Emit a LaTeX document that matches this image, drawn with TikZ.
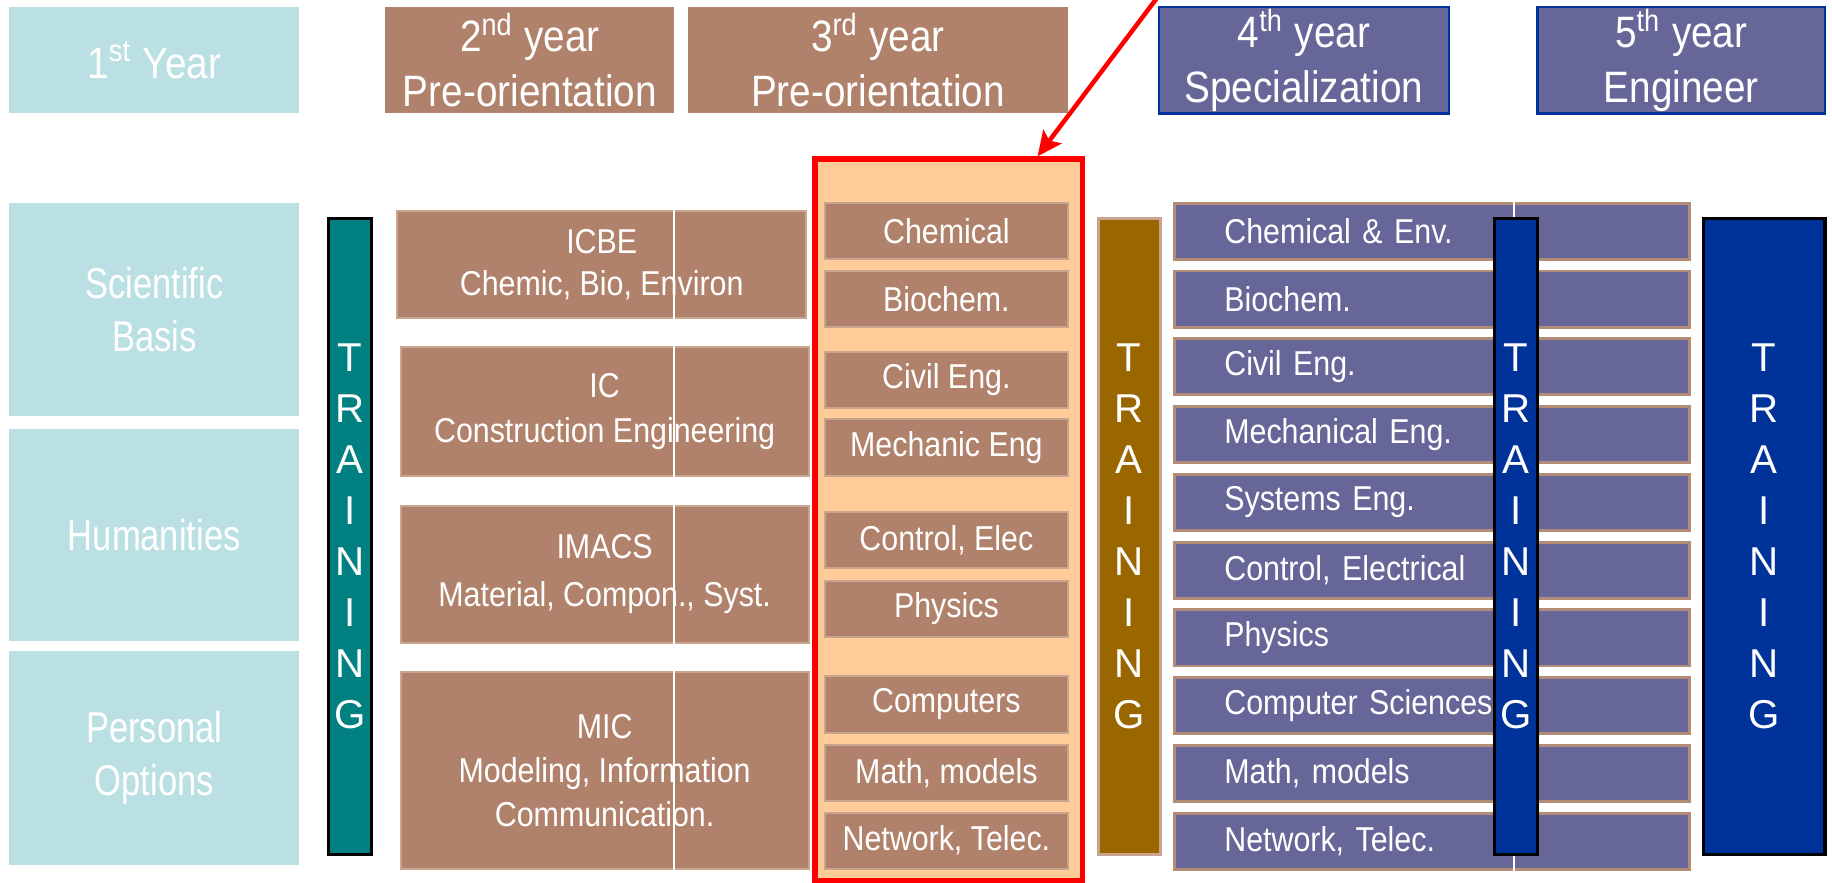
\documentclass[tikz,border=0pt]{standalone}
\usepackage{fontspec}
\setmainfont{Liberation Sans}
\newfontfamily\angosta{Liberation Sans}[FakeStretch=0.88]
\newfontfamily\apretada{Liberation Sans}[FakeStretch=0.8]
\usetikzlibrary{arrows.meta}

\definecolor{celeste}{HTML}{BBE0E3}
\definecolor{marron}{HTML}{B1826B}
\definecolor{marronborde}{HTML}{C9A48F}
\definecolor{durazno}{HTML}{FFCC99}
\definecolor{morado}{HTML}{666699}
\definecolor{moradoborde}{HTML}{B38C77}
\definecolor{verdeazul}{HTML}{008080}
\definecolor{ocre}{HTML}{996600}
\definecolor{azul}{HTML}{003399}

\begin{document}
\begin{tikzpicture}[x=0.01cm, y=-0.01cm,
    every node/.style={inner sep=0pt, text=white},
    bloque/.style 2 args={minimum width=#1, minimum height=#2},
    titulo/.style={align=center, font=\angosta\fontsize{10.7}{13.4}\selectfont},
    texto/.style={align=center, font=\angosta\fontsize{8.4}{11}\selectfont},
    lateral/.style={align=center, font=\apretada\fontsize{10.5}{12.8}\selectfont},
    barra/.style={bloque={#1}{5.44cm}, align=center,
        font=\fontsize{9.8}{12.43}\selectfont, line width=0.8pt}]

    \useasboundingbox (0,0) rectangle (1568,755);

    % Encabezados
    \node[fill=celeste, bloque={2.48cm}{0.91cm}, titulo] (anio1) at (132,51.5) {1\textsuperscript{st} Year};
    \node[fill=marron, bloque={2.47cm}{0.91cm}, titulo] (anio2) at (453.5,51.5) {2\textsuperscript{nd} year\\Pre-orientation};
    \node[fill=marron, bloque={3.25cm}{0.91cm}, titulo] (anio3) at (751.5,51.5) {3\textsuperscript{rd} year\\Pre-orientation};
    \node[fill=morado, draw=azul, line width=0.6pt, bloque={2.48cm}{0.91cm}, titulo] (anio4) at (1116,51.5) {4\textsuperscript{th} year\\Specialization};
    \node[fill=morado, draw=azul, line width=0.6pt, bloque={2.46cm}{0.91cm}, titulo] (anio5) at (1439,51.5) {5\textsuperscript{th} year\\Engineer};

    % Primer año
    \node[fill=celeste, bloque={2.48cm}{1.82cm}, lateral] (basis) at (132,265) {Scientific\\Basis};
    \node[fill=celeste, bloque={2.48cm}{1.82cm}, lateral] (human) at (132,458) {Humanities};
    \node[fill=celeste, bloque={2.48cm}{1.83cm}, lateral] (perso) at (132,648.5) {Personal\\Options};

    \node[fill=verdeazul, draw=black, barra={0.37cm}] (train1) at (299.5,459) {T\\R\\A\\I\\N\\I\\N\\G};

    % Segundo año
    \node[fill=marron, draw=marronborde, line width=0.5pt, bloque={3.50cm}{0.91cm}, texto, font=\angosta\fontsize{8.4}{10.2}\selectfont] (icbe) at (515,226.5) {ICBE\\Chemic, Bio, Environ};
    \node[fill=marron, draw=marronborde, line width=0.5pt, bloque={3.49cm}{1.10cm}, texto] (ic) at (517.5,352) {IC\\Construction Engineering};
    \node[fill=marron, draw=marronborde, line width=0.5pt, bloque={3.49cm}{1.17cm}, texto, font=\angosta\fontsize{8.4}{11.6}\selectfont] (imacs) at (517.5,491.5) {IMACS\\Material, Compon., Syst.};
    \node[fill=marron, draw=marronborde, line width=0.5pt, bloque={3.49cm}{1.69cm}, texto, font=\angosta\fontsize{8.4}{10.8}\selectfont] (mic) at (517.5,659.5) {MIC\\Modeling, Information\\Communication.};

    \coordinate (corte2) at (577,0);
    \foreach \c in {icbe, ic, imacs, mic}
        \draw[white, line width=0.6pt] (\c.north -| corte2) -- (\c.south -| corte2);

    % Tercer año
    \node[fill=durazno, draw=red, line width=1.4pt, bloque={2.29cm}{6.175cm}] (sel) at (812,445.25) {};
    \foreach \nombre/\y [count=\i] in {Chemical/198, Biochem./256, Civil Eng./325, Mechanic Eng/383,
        {Control, Elec}/462, Physics/521, Computers/603, {Math, models}/661.5, {Network, Telec.}/719.5}
        \node[fill=marron, draw=marronborde, line width=0.5pt, bloque={2.08cm}{0.48cm}, texto] (t\i) at (810,\y) {\nombre};

    \node[fill=ocre, draw=marronborde, barra={0.53cm}] (train2) at (966.5,459) {T\\R\\A\\I\\N\\I\\N\\G};

    % Cuarto año
    \foreach \nombre [count=\i from 0] in {Chemical \& Env., Biochem., Civil Eng., Mechanical Eng., Systems Eng.,
        {Control, Electrical}, Physics, Computer Sciences, {Math, models}, {Network, Telec.}}
        \node[fill=morado, draw=moradoborde, line width=0.7pt, minimum height=0.48cm,
            text width=3.55cm, inner xsep=0.43cm, align=left,
            font=\angosta\fontsize{8.4}{11}\selectfont] (f\i) at (1225.5,{198+58*\i}) {\nombre};

    \coordinate (corte4) at (1296,0);
    \draw[white, line width=0.6pt] (f0.north -| corte4) -- (f9.south -| corte4);

    \node[fill=azul, draw=black, barra={0.37cm}] (train3) at (1297.5,459) {T\\R\\A\\I\\N\\I\\N\\G};

    % Quinto año
    \node[fill=azul, draw=black, barra={1.04cm}] (train4) at (1510,459) {T\\R\\A\\I\\N\\I\\N\\G};

    % Flecha
    \coordinate (origen) at (998,-12);
    \draw[-{Stealth[length=6pt, width=5.5pt, inset=1.2pt]}, red, line width=1.1pt] (origen) -- ([xshift=0.76cm]sel.north);
\end{tikzpicture}
\end{document}
